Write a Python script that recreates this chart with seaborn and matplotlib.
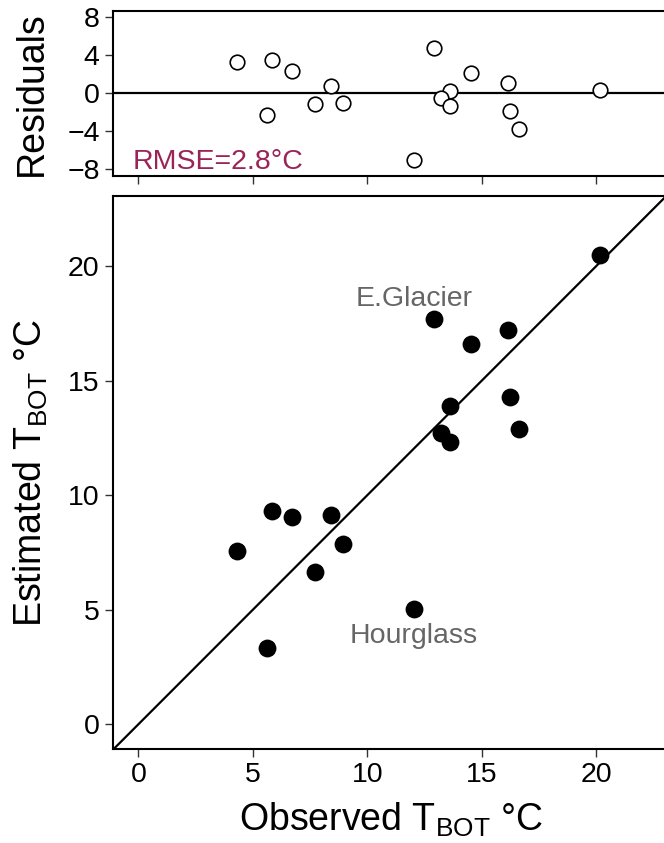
import matplotlib
matplotlib.use("Agg")
import matplotlib.pyplot as plt
import seaborn as sns
import pandas as pd

# ---- data ----
observed = [20.14, 12.93, 16.12, 14.52, 13.62, 16.21, 16.62, 13.21, 13.62,
            5.83, 6.72, 8.42, 4.30, 8.92, 7.73, 12.02, 5.61]
estimated = [20.48, 17.67, 17.19, 16.61, 13.87, 14.29, 12.88, 12.70, 12.31,
             9.30, 9.04, 9.13, 7.57, 7.88, 6.63, 5.01, 3.34]
label_names = ["E.Glacier", "Hourglass"]
label_x = [12.02, 12.02]
label_y = [18.24, 3.53]
x_ticks = [0, 5, 10, 15, 20]
y_ticks = [0, 5, 10, 15, 20]
res_ticks = [-8, -4, 0, 4, 8]
rmse_text = "RMSE=2.8°C"

df = pd.DataFrame({"observed": observed, "estimated": estimated})
df["residual"] = df["estimated"] - df["observed"]

sns.set_style("white")
plt.rcParams["font.family"] = ["Liberation Sans", "DejaVu Sans"]
plt.rcParams["mathtext.fontset"] = "custom"
plt.rcParams["mathtext.rm"] = "Liberation Sans"
plt.rcParams["axes.unicode_minus"] = True
plt.rcParams["text.color"] = "black"
plt.rcParams["axes.labelcolor"] = "black"

W, H = 664, 843
fig = plt.figure(figsize=(W / 100, H / 100), dpi=100)


def rect(l, t, r, b):
    return [l / W, 1 - b / H, (r - l) / W, (b - t) / H]


ax_top = fig.add_axes(rect(112.7, 10.7, 669.7, 175.7))
ax_bot = fig.add_axes(rect(112.7, 196.0, 669.7, 749.3))

XLIM = (-1.12, 23.2)

# ---- bottom panel ----
ax_bot.axline((0, 0), slope=1, color="black", lw=1.6, zorder=1)
sns.scatterplot(data=df, x="observed", y="estimated", ax=ax_bot,
                color="black", s=165, linewidth=0, zorder=3, legend=False)
for name, lx, ly in zip(label_names, label_x, label_y):
    ax_bot.text(lx, ly, name, ha="center", va="baseline",
                color="#666666", fontsize=20.5)
ax_bot.set_xlim(*XLIM)
ax_bot.set_ylim(-1.09, 23.05)
ax_bot.set_xticks(x_ticks)
ax_bot.set_yticks(y_ticks)
ax_bot.set_xlabel(r"Observed T$_{\mathregular{BOT}}$ °C", fontsize=27,
                  color="black")
ax_bot.set_ylabel(r"Estimated T$_{\mathregular{BOT}}$ °C", fontsize=27,
                  color="black")

# ---- top panel ----
ax_top.axhline(0, color="black", lw=1.6, zorder=1)
sns.scatterplot(data=df, x="observed", y="residual", ax=ax_top,
                color="white", edgecolor="black", s=110, linewidth=1.2,
                zorder=3, legend=False)
ax_top.text(-0.23, -8, rmse_text, ha="left", va="baseline",
            color="#9A2457", fontsize=20.5)
ax_top.set_xlim(*XLIM)
ax_top.set_ylim(-8.7, 8.7)
ax_top.set_xticks(x_ticks)
ax_top.set_xticklabels([])
ax_top.set_yticks(res_ticks)
ax_top.set_xlabel("")
ax_top.set_ylabel("Residuals", fontsize=27, color="black")

for ax in (ax_top, ax_bot):
    for sp in ax.spines.values():
        sp.set_visible(True)
        sp.set_color("black")
        sp.set_linewidth(1.5)
    ax.tick_params(direction="out", length=5.8, width=1.0, color="#333333",
                   labelcolor="black", labelsize=20.5, pad=3.6,
                   bottom=True, left=True)
    ax.yaxis.set_label_coords(-0.1131, 0.5)

ax_bot.xaxis.set_label_coords(0.5, -0.092)

fig.savefig("out.png", dpi=100)
